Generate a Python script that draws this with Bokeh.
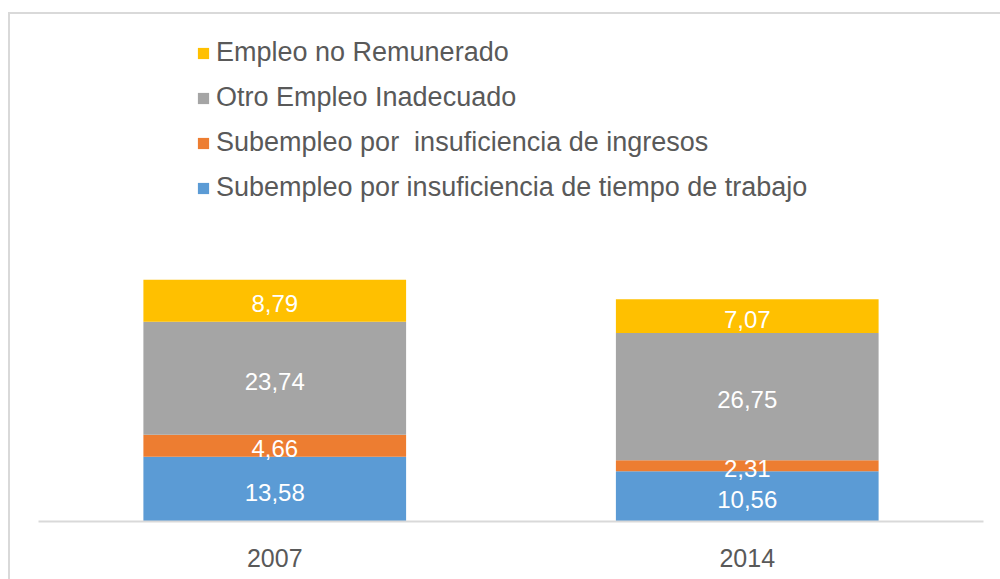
from bokeh.plotting import figure
from bokeh.models import ColumnDataSource, Range1d, FactorRange, Legend, LegendItem
from bokeh.layouts import column
from bokeh.core.properties import value
from bokeh.embed import file_html
from bokeh.resources import INLINE

years = ["2007", "2014"]
tiempo = [13.58, 10.56]
ingresos = [4.66, 2.31]
otro = [23.74, 26.75]
no_remunerado = [8.79, 7.07]

series_names = [
    "Subempleo por insuficiencia de tiempo de trabajo",
    "Subempleo por  insuficiencia de ingresos",
    "Otro Empleo Inadecuado",
    "Empleo no Remunerado",
]
series_keys = ["tiempo", "ingresos", "otro", "no_remunerado"]
colors = ["#5B9BD5", "#ED7D31", "#A5A5A5", "#FFC000"]

FONT = "Liberation Sans"

data = dict(years=years, tiempo=tiempo, ingresos=ingresos, otro=otro, no_remunerado=no_remunerado)
source = ColumnDataSource(data)

p = figure(
    x_range=FactorRange(factors=years, range_padding=0),
    y_range=Range1d(0, 106.1),
    width=990, height=565,
    output_backend="svg", toolbar_location=None,
    min_border_left=28, min_border_right=17, min_border_top=2, min_border_bottom=58,
)
p.outline_line_color = None
p.background_fill_color = "white"
p.border_fill_color = "white"
p.xgrid.visible = False
p.ygrid.visible = False
p.yaxis.visible = False

renderers = p.vbar_stack(series_keys, x="years", width=0.556, source=source,
                         color=colors, line_color=None)

# data labels
lx, ly, lt = [], [], []
for i, yr in enumerate(years):
    base = 0.0
    for k in series_keys:
        v = data[k][i]
        lx.append(yr)
        ly.append(base + v / 2.0)
        lt.append(("%.2f" % v).replace(".", ","))
        base += v
lsrc = ColumnDataSource(dict(x=lx, y=ly, t=lt))
p.text(x="x", y="y", text="t", source=lsrc, text_color="white",
       text_font=value(FONT), text_font_size="24px",
       text_align="center", text_baseline="middle", y_offset=3)

xa = p.xaxis[0]
xa.axis_line_color = "#D9D9D9"
xa.axis_line_width = 2
xa.major_tick_line_color = None
xa.minor_tick_line_color = None
xa.major_tick_out = 0
xa.major_label_standoff = 27
xa.major_label_text_font = FONT
xa.major_label_text_font_size = "25px"
xa.major_label_text_color = "#595959"

items = [LegendItem(label=series_names[j], renderers=[renderers[j]]) for j in [3, 2, 1, 0]]
legend = Legend(items=items, location=(158, 318), orientation="vertical",
                glyph_width=14, glyph_height=14, label_height=14, spacing=14,
                label_standoff=6, padding=0, margin=0,
                label_text_font=FONT, label_text_font_size="27px",
                label_text_color="#595959",
                border_line_color=None, background_fill_alpha=0)
p.add_layout(legend, "center")

layout = column(p, styles={"border-left": "2px solid #D9D9D9",
                           "border-top": "2px solid #D9D9D9",
                           "margin-left": "8px", "margin-top": "12px"})

open("out.html", "w").write(file_html(layout, INLINE))
